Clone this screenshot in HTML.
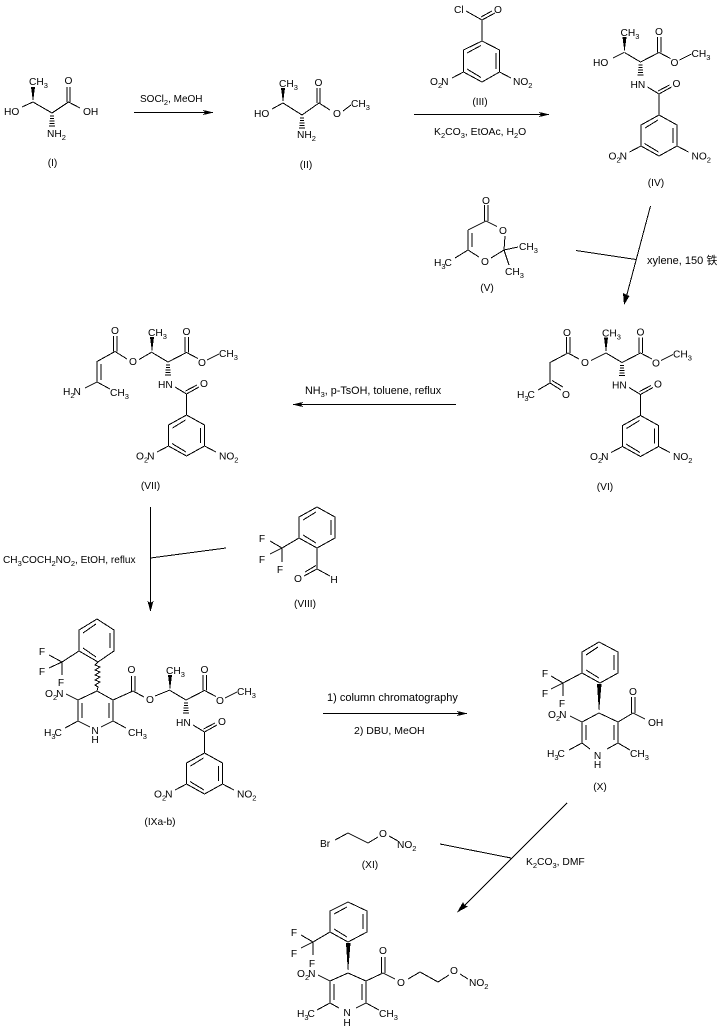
<!DOCTYPE html>
<html><head><meta charset="utf-8"><style>
html,body{margin:0;padding:0;background:#fff}
svg{display:block}
text{font-family:"Liberation Sans","Noto Sans CJK SC",sans-serif;font-size:10.2px;fill:#000}
.s{font-size:7.5px}
path,line{fill:none;stroke:#000;stroke-width:1}
.f{fill:#000;stroke:none}
.m{text-anchor:middle}
</style></head><body>
<svg width="718" height="1033" viewBox="0 0 718 1033" xmlns="http://www.w3.org/2000/svg" shape-rendering="crispEdges">

<!-- I -->
<path d="M22 107L33 102L52 113L68.500 102L80 108M67 87V102M70 87V102M50 116H54M50 118.500H54M49.500 121H54.500M49.500 123.500H54.500M49 126H55"/>
<polygon class="f" points="33,102 31,87 35,87"/>
<text x="29" y="85">CH<tspan class="s" dy="3">3</tspan></text>
<text x="68.500" y="84" class="m">O</text>
<text x="4" y="115">HO</text><text x="83" y="115">OH</text>
<text x="47" y="137">NH<tspan class="s" dy="3">2</tspan></text>
<text x="52.500" y="166" class="m">(I)</text>

<!-- arrow 1 -->
<line x1="134" y1="112.500" x2="208" y2="112.500"/>
<polygon class="f" points="203,110 214,112.500 203,115 205,112.500"/>
<text x="140" y="102" style="font-size:10px">SOCl<tspan class="s" dy="3">2</tspan><tspan dy="-3">, MeOH</tspan></text>

<!-- II -->
<path d="M272 109L283 103L302 115L319 103L330 110M343 111L351 105M317 88V103M320 88V103M300 118H304M300 120.500H304M299.500 123H304.500M299.500 125.500H304.500M299 128H305"/>
<polygon class="f" points="283,103 281,88 285,88"/>
<text x="279" y="87">CH<tspan class="s" dy="3">3</tspan></text>
<text x="318.500" y="86" class="m">O</text>
<text x="337" y="117" class="m">O</text>
<text x="351" y="107">CH<tspan class="s" dy="3">3</tspan></text>
<text x="254" y="117">HO</text>
<text x="297" y="138">NH<tspan class="s" dy="3">2</tspan></text>
<text x="306" y="168" class="m">(II)</text>

<!-- III -->
<path d="M466 11L482 20L495 13M481 17L492 11M482 20V41L499.500 50V72L482 82L463.500 72V50L482 41M496 53V69M467 69L481 77.500M467 53L481 45.500M499.500 72L511 78M463.500 72L452 78"/>
<text x="454" y="13">Cl</text>
<text x="498" y="13" class="m">O</text>
<text x="513" y="85">NO<tspan class="s" dy="3">2</tspan></text>
<text x="430" y="85">O<tspan class="s" dy="3">2</tspan><tspan dx="-1" dy="-3">N</tspan></text>
<text x="480" y="105" class="m">(III)</text>

<!-- arrow 2 -->
<line x1="414" y1="114.500" x2="545" y2="114.500"/>
<polygon class="f" points="539,112 550,114.500 539,117 541,114.500"/>
<text x="434" y="135" style="font-size:10.4px">K<tspan class="s" dy="3">2</tspan><tspan dy="-3">CO</tspan><tspan class="s" dy="3">3</tspan><tspan dy="-3">, EtOAc, H</tspan><tspan class="s" dy="3">2</tspan><tspan dy="-3">O</tspan></text>

<!-- IV -->
<path d="M613 58L624 52.500"/>
<text x="593" y="66">HO</text>
<g transform="translate(640.500,62)">
<path d="M-16-9.500L0 0L18.500-9.500M17-9.500V-25M20.500-9.500V-25M18.500-9.500L30-3.500M39-2L51-8M-2 3H2M-2 5.500H2M-2.500 8H2.500M-2.500 10.500H2.500M-3 13H3M7 25L18.500 32L31 25M17.500 29L29 23M18.500 32V53L36.500 63V84L18.500 94L0.500 84V63L18.500 53M32.500 66V81M4 81.500L18 90M4.500 66L17.500 58M36.500 84L48 90M0.500 84L-11 90"/>
<polygon class="f" points="-16,-9.500 -18,-25 -14,-25"/>
<text x="-20" y="-26">CH<tspan class="s" dy="3">3</tspan></text>
<text x="18.500" y="-27" class="m">O</text>
<text x="34" y="4" class="m">O</text>
<text x="51" y="-5">CH<tspan class="s" dy="3">3</tspan></text>
<text x="-10" y="26">HN</text>
<text x="36" y="25" class="m">O</text>
<text x="51" y="97.500">NO<tspan class="s" dy="3">2</tspan></text>
<text x="-32" y="97.500">O<tspan class="s" dy="3">2</tspan><tspan dx="-1" dy="-3">N</tspan></text>
</g>
<text x="656" y="186" class="m">(IV)</text>

<!-- V -->
<path d="M484.500 205V221M488 205V221M468 230L486 221L497 226.500M505 236L504 250L491 258M479 257L468 250L455 258M468 230V250M472 233V247M504 250L518 247M504 250L509 265"/>
<text x="486" y="204" class="m">O</text>
<text x="503" y="234" class="m">O</text>
<text x="485" y="265" class="m">O</text>
<text x="434" y="266">H<tspan class="s" dy="3">3</tspan><tspan dx="-1" dy="-3">C</tspan></text>
<text x="519" y="250">CH<tspan class="s" dy="3">3</tspan></text>
<text x="505" y="275">CH<tspan class="s" dy="3">3</tspan></text>
<text x="487" y="291" class="m">(V)</text>

<!-- arrow 3 -->
<path d="M650.500 206L626 298M576 250.500L636 259.500"/>
<polygon class="f" points="624,305 623,293 627,295 629.500,296"/>
<text x="647" y="264" style="font-size:11px">xylene, 150 铁</text>

<!-- VI -->
<path d="M606 353L591 360.500M579 359L568 353L550 362.500V383L561 390M566.500 337V353M570 337V353M552 380.500L563 387M550 383L538 390"/>
<text x="567" y="336" class="m">O</text>
<text x="585" y="366" class="m">O</text>
<text x="566" y="398" class="m">O</text>
<text x="517" y="398">H<tspan class="s" dy="3">3</tspan><tspan dx="-1" dy="-3">C</tspan></text>
<g transform="translate(622,362.500)">
<path d="M-16-9.500L0 0L18.500-9.500M17-9.500V-25M20.500-9.500V-25M18.500-9.500L30-3.500M39-2L51-8M-2 3H2M-2 5.500H2M-2.500 8H2.500M-2.500 10.500H2.500M-3 13H3M7 25L18.500 32L31 25M17.500 29L29 23M18.500 32V53L36.500 63V84L18.500 94L0.500 84V63L18.500 53M32.500 66V81M4 81.500L18 90M4.500 66L17.500 58M36.500 84L48 90M0.500 84L-11 90"/>
<polygon class="f" points="-16,-9.500 -18,-25 -14,-25"/>
<text x="-20" y="-26">CH<tspan class="s" dy="3">3</tspan></text>
<text x="18.500" y="-27" class="m">O</text>
<text x="34" y="4" class="m">O</text>
<text x="51" y="-5">CH<tspan class="s" dy="3">3</tspan></text>
<text x="-10" y="26">HN</text>
<text x="36" y="25" class="m">O</text>
<text x="51" y="97.500">NO<tspan class="s" dy="3">2</tspan></text>
<text x="-32" y="97.500">O<tspan class="s" dy="3">2</tspan><tspan dx="-1" dy="-3">N</tspan></text>
</g>
<text x="605" y="490" class="m">(VI)</text>

<!-- arrow 4 -->
<line x1="456" y1="404.500" x2="297" y2="404.500"/>
<polygon class="f" points="292,404.500 303,402 301,404.500 303,407"/>
<text x="305" y="394" style="font-size:10.8px">NH<tspan class="s" dy="3">3</tspan><tspan dy="-3">, p-TsOH, toluene, reflux</tspan></text>

<!-- VII -->
<path d="M152 352L139 359.500M127 359L115 351.500L97 361.500V382L85 388M97 382L110 389M101 364V380M113.500 336V351.500M117 336V351.500"/>
<text x="115" y="334" class="m">O</text>
<text x="133" y="365" class="m">O</text>
<text x="63" y="395">H<tspan class="s" dy="3">2</tspan><tspan dx="-1" dy="-3">N</tspan></text>
<text x="110" y="396">CH<tspan class="s" dy="3">3</tspan></text>
<g transform="translate(168,362)">
<path d="M-16-9.500L0 0L18.500-9.500M17-9.500V-25M20.500-9.500V-25M18.500-9.500L30-3.500M39-2L51-8M-2 3H2M-2 5.500H2M-2.500 8H2.500M-2.500 10.500H2.500M-3 13H3M7 25L18.500 32L31 25M17.500 29L29 23M18.500 32V53L36.500 63V84L18.500 94L0.500 84V63L18.500 53M32.500 66V81M4 81.500L18 90M4.500 66L17.500 58M36.500 84L48 90M0.500 84L-11 90"/>
<polygon class="f" points="-16,-9.500 -18,-25 -14,-25"/>
<text x="-20" y="-26">CH<tspan class="s" dy="3">3</tspan></text>
<text x="18.500" y="-27" class="m">O</text>
<text x="34" y="4" class="m">O</text>
<text x="51" y="-5">CH<tspan class="s" dy="3">3</tspan></text>
<text x="-10" y="26">HN</text>
<text x="36" y="25" class="m">O</text>
<text x="51" y="97.500">NO<tspan class="s" dy="3">2</tspan></text>
<text x="-32" y="97.500">O<tspan class="s" dy="3">2</tspan><tspan dx="-1" dy="-3">N</tspan></text>
</g>
<text x="150.500" y="489" class="m">(VII)</text>

<!-- arrow 5 -->
<path d="M150.500 507V604M150.500 558L226 548"/>
<polygon class="f" points="150.500,612 147.500,601 150.500,603 153.500,601"/>
<text x="3" y="563" style="font-size:10.1px">CH<tspan class="s" dy="3">3</tspan><tspan dy="-3">COCH</tspan><tspan class="s" dy="3">2</tspan><tspan dy="-3">NO</tspan><tspan class="s" dy="3">2</tspan><tspan dy="-3">, EtOH, reflux</tspan></text>

<!-- VIII -->
<path d="M317 507L335 517V538L317 548L299 538V517L317 507M331 520V535M303 520L316 512M303 535L316 543M299 538L282 548L270 541M282 548L270 554M282 548V562M317 548V569L330 576M317 569L304 576M316 565.500L305 572"/>
<text x="262" y="542" class="m">F</text>
<text x="262" y="563" class="m">F</text>
<text x="280" y="573" class="m">F</text>
<text x="298" y="582" class="m">O</text>
<text x="334" y="583" class="m">H</text>
<text x="305" y="607" class="m">(VIII)</text>

<!-- IX -->
<path d="M97 619L114 630V651L98 662L79 651V630L97 619M110 633V648M83 633L96 624M83 648L96 657M79 651L62 662L49 655M62 662L49 668M62 662V675M97 691L113 700V721L101 727M90 727L78 721V700L97 691M82 703V718M109 703V718M78 721L65 728M113 721L126 728M78 700L66 694M113 700L133 691L144 697M155 696L170 690M131.500 676V691M135 676V691"/>
<path d="M98 662L95 665L100 667L95 670L100 672L95 675L100 677L95 680L100 682L95 685L98 687L97 691"/>
<text x="42" y="655" class="m">F</text>
<text x="42" y="675" class="m">F</text>
<text x="61" y="686" class="m">F</text>
<text x="45" y="697">O<tspan class="s" dy="3">2</tspan><tspan dx="-1" dy="-3">N</tspan></text>
<text x="44" y="736">H<tspan class="s" dy="3">3</tspan><tspan dx="-1" dy="-3">C</tspan></text>
<text x="128" y="736">CH<tspan class="s" dy="3">3</tspan></text>
<text x="95" y="734" class="m">N</text>
<text x="95" y="743" class="m">H</text>
<text x="131.500" y="673" class="m">O</text>
<text x="150" y="703" class="m">O</text>
<g transform="translate(186,700)">
<path d="M-16-9.500L0 0L18.500-9.500M17-9.500V-25M20.500-9.500V-25M18.500-9.500L30-3.500M39-2L51-8M-2 3H2M-2 5.500H2M-2.500 8H2.500M-2.500 10.500H2.500M-3 13H3M7 25L18.500 32L31 25M17.500 29L29 23M18.500 32V53L36.500 63V84L18.500 94L0.500 84V63L18.500 53M32.500 66V81M4 81.500L18 90M4.500 66L17.500 58M36.500 84L48 90M0.500 84L-11 90"/>
<polygon class="f" points="-16,-9.500 -18,-25 -14,-25"/>
<text x="-20" y="-26">CH<tspan class="s" dy="3">3</tspan></text>
<text x="18.500" y="-27" class="m">O</text>
<text x="34" y="4" class="m">O</text>
<text x="51" y="-5">CH<tspan class="s" dy="3">3</tspan></text>
<text x="-10" y="26">HN</text>
<text x="36" y="25" class="m">O</text>
<text x="51" y="97.500">NO<tspan class="s" dy="3">2</tspan></text>
<text x="-32" y="97.500">O<tspan class="s" dy="3">2</tspan><tspan dx="-1" dy="-3">N</tspan></text>
</g>
<text x="160" y="825" class="m">(IXa-b)</text>

<!-- arrow 6 -->
<line x1="323" y1="713.500" x2="463" y2="713.500"/>
<polygon class="f" points="457,711 468,713.500 457,716 459,713.500"/>
<text x="327" y="701" style="font-size:11px">1) column chromatography</text>
<text x="354" y="734" style="font-size:10.5px">2) DBU, MeOH</text>

<!-- X -->
<path d="M599 642L618 652V673L600 683L582 673V652L599 642M614 655V670M586 655L598 647M586 670L599 678M582 673L563 683L551 676M563 683L551 689M563 683V696M599 713L618 722V743L607 749M590 749L582 743V722L599 713M586 725V740M614 725V740M582 743L569 750M618 743L630 750M582 722L570 716M618 722L633 713L645 719M631.500 697V713M635 697V713"/>
<polygon class="f" points="599,713 597,684 601.500,684"/>
<text x="545" y="677" class="m">F</text>
<text x="545" y="697" class="m">F</text>
<text x="562" y="707" class="m">F</text>
<text x="548" y="718">O<tspan class="s" dy="3">2</tspan><tspan dx="-1" dy="-3">N</tspan></text>
<text x="547" y="757">H<tspan class="s" dy="3">3</tspan><tspan dx="-1" dy="-3">C</tspan></text>
<text x="630" y="757">CH<tspan class="s" dy="3">3</tspan></text>
<text x="597.500" y="759" class="m">N</text>
<text x="597.500" y="768" class="m">H</text>
<text x="633" y="695" class="m">O</text>
<text x="648" y="726">OH</text>
<text x="600" y="790" class="m">(X)</text>

<!-- XI -->
<path d="M335 840L348 833L368 843L378 837M389 836L398 841"/>
<text x="320" y="847">Br</text>
<text x="383" y="837" class="m">O</text>
<text x="397" y="848">NO<tspan class="s" dy="3">2</tspan></text>
<text x="370" y="868" class="m">(XI)</text>

<!-- arrow 7 -->
<path d="M567 803L462 908M440 844L511 858"/>
<polygon class="f" points="457,912.500 463,902 464.500,905 468,906.500"/>
<text x="526" y="865" style="font-size:10.3px">K<tspan class="s" dy="3">2</tspan><tspan dy="-3">CO</tspan><tspan class="s" dy="3">3</tspan><tspan dy="-3">, DMF</tspan></text>

<!-- XII -->
<path d="M348 902L367 911V932L348 942L330 932V911L348 902M363 914V929M334 914L347 907M334 929L347 937M330 932L313 942L301 935M313 942L301 948M313 942V955M348 973L366 981V1003L356 1008M339 1008L330 1003V981L348 973M334 984V1000M362 984V1000M330 1003L317 1010M366 1003L379 1010M330 981L318 975M366 981L383 973L395 979M408 979L420 972L438 982L449 975M460 974L468 979M381.500 957V973M385 957V973"/>
<polygon class="f" points="348,973 346,943 350.500,943"/>
<text x="294" y="936" class="m">F</text>
<text x="294" y="957" class="m">F</text>
<text x="312" y="967" class="m">F</text>
<text x="297" y="977">O<tspan class="s" dy="3">2</tspan><tspan dx="-1" dy="-3">N</tspan></text>
<text x="297" y="1017">H<tspan class="s" dy="3">3</tspan><tspan dx="-1" dy="-3">C</tspan></text>
<text x="379" y="1017">CH<tspan class="s" dy="3">3</tspan></text>
<text x="347" y="1016" class="m">N</text>
<text x="347" y="1026" class="m">H</text>
<text x="383" y="954" class="m">O</text>
<text x="401" y="986" class="m">O</text>
<text x="454" y="974" class="m">O</text>
<text x="469" y="986">NO<tspan class="s" dy="3">2</tspan></text>
</svg>
</body></html>
